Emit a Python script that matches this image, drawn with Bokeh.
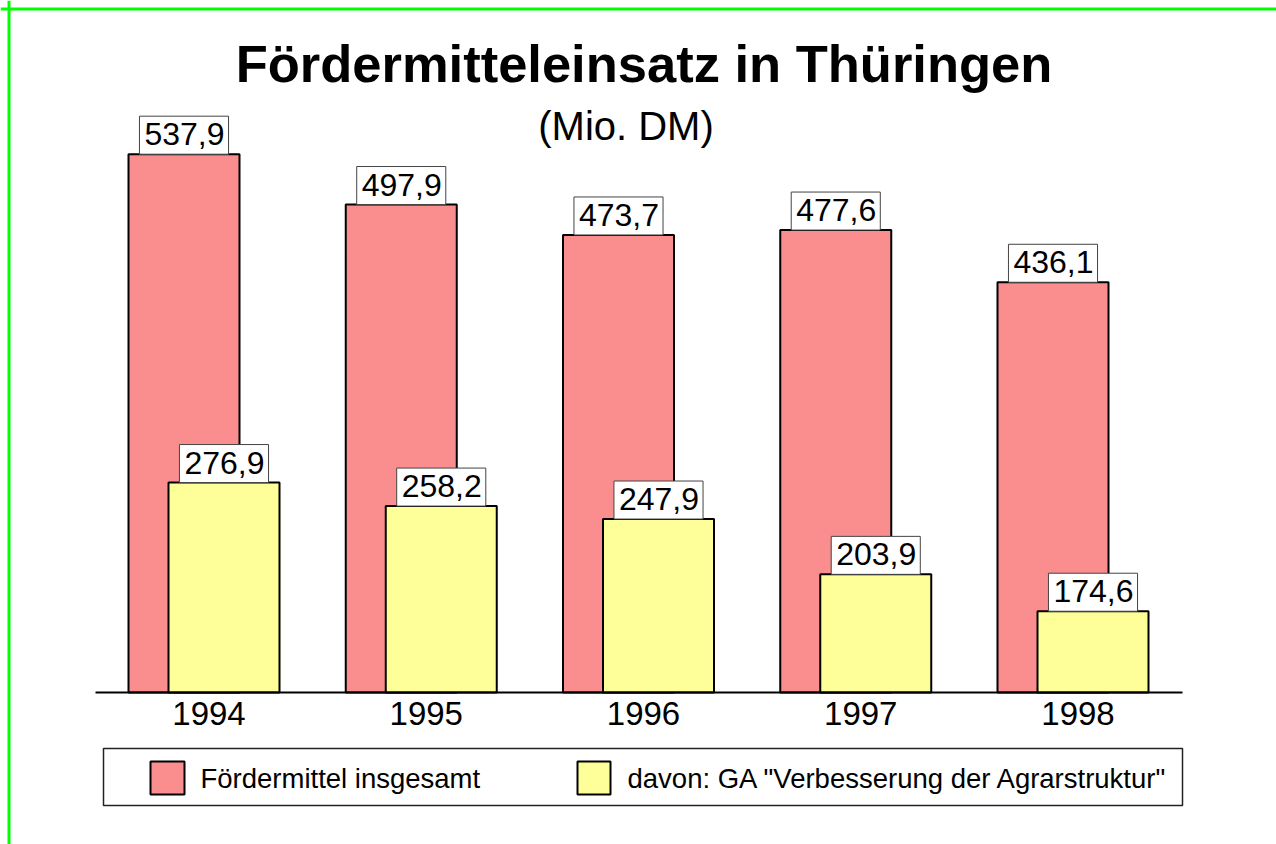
from bokeh.plotting import figure
from bokeh.models import Range1d, Span
from bokeh.core.properties import value
from bokeh.embed import file_html
from bokeh.resources import INLINE

# ---------------- data ----------------
years = [1994, 1995, 1996, 1997, 1998]
year_labels = ["1994", "1995", "1996", "1997", "1998"]
total = [537.9, 497.9, 473.7, 477.6, 436.1]
ga = [276.9, 258.2, 247.9, 203.9, 174.6]
total_labels = ["537,9", "497,9", "473,7", "477,6", "436,1"]
ga_labels = ["276,9", "258,2", "247,9", "203,9", "174,6"]
series_names = ["Fördermittel insgesamt", 'davon: GA "Verbesserung der Agrarstruktur"']
series_colors = ["#FA8E8E", "#FFFF99"]
title_text = "Fördermitteleinsatz in Thüringen"
subtitle_text = "(Mio. DM)"

# ---------------- layout / scales ----------------
W, H = 1276, 844
FONT = value("Liberation Sans")
BASE = 110.0            # value at which the category axis sits
PX_PER_UNIT_Y = 1.258
PX_PER_YEAR = 217.25
X0_CANVAS = 203.5       # canvas x of first group centre
Y0_CANVAS = 692.0       # canvas y of the category axis

x_start = years[0] - X0_CANVAS / PX_PER_YEAR
x_end = x_start + W / PX_PER_YEAR
y_end = BASE + Y0_CANVAS / PX_PER_UNIT_Y
y_start = y_end - H / PX_PER_UNIT_Y


def cx(px):
    return x_start + px / PX_PER_YEAR


def cy(py):
    return y_end - py / PX_PER_UNIT_Y


OFF = 20.0 / PX_PER_YEAR
BAR_W = 111.0 / PX_PER_YEAR

p = figure(width=W, height=H, x_range=Range1d(x_start, x_end), y_range=Range1d(y_start, y_end),
           output_backend="svg", toolbar_location=None, min_border=0,
           x_axis_type=None, y_axis_type=None)
p.grid.visible = False
p.outline_line_color = None
p.background_fill_color = "white"
p.border_fill_color = "white"

x_red = [y - OFF for y in years]
x_yel = [y + OFF for y in years]

# bars
p.vbar(x=x_red, width=BAR_W, bottom=BASE, top=total, fill_color=series_colors[0],
       line_color="black", line_width=2)
label_kw = dict(anchor="bottom_center", padding=dict(left=5, right=4, top=7, bottom=9),
                background_fill_color="white",
                border_line_color="#444444", border_line_width=1,
                text_font=FONT, text_font_size="32px", text_color="black")
p.text(x=x_red, y=total, text=total_labels, **label_kw)
p.vbar(x=x_yel, width=BAR_W, bottom=BASE, top=ga, fill_color=series_colors[1],
       line_color="black", line_width=2)
p.text(x=x_yel, y=ga, text=ga_labels, **label_kw)

# category axis line and labels
p.segment(x0=[cx(95)], y0=[BASE], x1=[cx(1182)], y1=[BASE], line_color="black", line_width=2)
p.text(x=years, y=[cy(713)] * len(years), text=year_labels, text_align="center",
       text_baseline="alphabetic", x_offset=5, text_font=FONT, text_font_size="33px",
       text_color="black")

# titles
p.text(x=[cx(643.5)], y=[cy(63)], text=[title_text], text_align="center",
       text_baseline="alphabetic", text_font=FONT, text_font_size="52.5px",
       text_font_style="bold", text_color="black")
p.text(x=[cx(625.5)], y=[cy(125)], text=[subtitle_text], text_align="center",
       text_baseline="alphabetic", text_font=FONT, text_font_size="40px", text_color="black")

# legend
p.quad(left=[cx(103)], right=[cx(1182)], top=[cy(748)], bottom=[cy(805)],
       fill_color="white", line_color="#222222", line_width=1.5)
sw_left = [cx(150), cx(577)]
sw_right = [cx(184), cx(610)]
p.quad(left=sw_left, right=sw_right, top=[cy(761)] * 2, bottom=[cy(794)] * 2,
       fill_color=series_colors, line_color="black", line_width=2)
p.text(x=[cx(200), cx(627)], y=[cy(778)] * 2, text=series_names, text_align="left",
       text_baseline="alphabetic", text_font=FONT, text_font_size="27.5px", text_color="black")

# green frame (top and left edges)
p.add_layout(Span(location=cy(8.5), dimension="width", line_color="#00FF00", line_width=3))
p.add_layout(Span(location=cx(8.5), dimension="height", line_color="#00FF00", line_width=3))

open("out.html", "w").write(file_html(p, INLINE))
